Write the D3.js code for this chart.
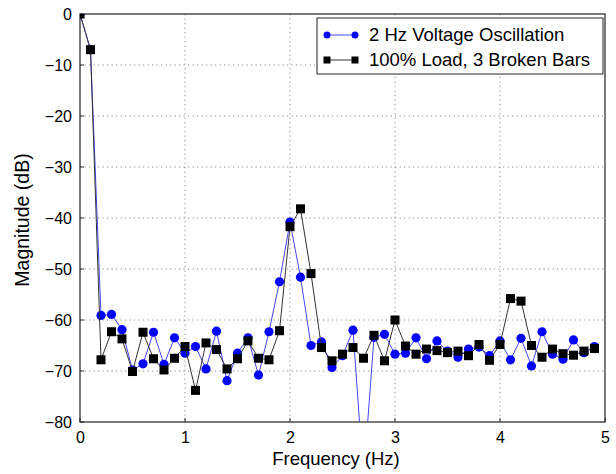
<!DOCTYPE html>
<html>
<head>
<meta charset="utf-8">
<script src="https://cdn.jsdelivr.net/npm/d3@7"></script>
<style>
  body { margin: 0; background: #fff; }
  text { font-family: "Liberation Sans", Arial, sans-serif; }
</style>
</head>
<body>
<div id="graph"></div>
<script>
// frequency bins, 0.1 Hz apart
var freqs = d3.range(0, 50).map(i => i / 10)

var voltageOsc = [0, -7, -59.1, -58.9, -61.9, -69.8, -68.6, -62.4, -68.7, -63.5,
  -66.5, -65.2, -69.6, -62.2, -71.9, -66.5, -63.5, -70.8, -62.3, -52.5,
  -40.8, -51.6, -65.0, -64.3, -69.3, -67.0, -62.0, -91, -63.4, -62.8,
  -66.7, -66.5, -63.5, -67.6, -64.1, -66.1, -67.3, -65.7, -65.3, -67.0,
  -64.1, -67.8, -63.6, -69.0, -62.3, -66.7, -67.7, -63.9, -66.4, -65.2]

var brokenBars = [0, -7, -67.8, -62.3, -63.7, -70.1, -62.4, -67.6, -69.8, -67.5,
  -65.2, -73.8, -64.5, -65.8, -69.6, -67.6, -64.1, -67.5, -67.8, -62.1,
  -41.7, -38.2, -50.9, -65.4, -68.0, -66.7, -65.4, -67.5, -63.0, -68.0,
  -60.0, -65.1, -66.7, -65.7, -66.0, -66.4, -66.1, -67.0, -64.8, -67.9,
  -64.8, -55.8, -56.3, -65.0, -67.3, -65.7, -66.6, -66.9, -66.1, -65.6]

var xTicks = [0, 1, 2, 3, 4, 5]
var yTicks = [0, -10, -20, -30, -40, -50, -60, -70, -80]
var legendLabels = ['2 Hz Voltage Oscillation', '100% Load, 3 Broken Bars']

var W = 616, H = 474
var m = {left: 80, right: 11, top: 14, bottom: 52}
var w = W - m.left - m.right, h = H - m.top - m.bottom

var x = d3.scaleLinear().domain([0, 5]).range([0, w])
var y = d3.scaleLinear().domain([-80, 0]).range([h, 0])

var svg = d3.select('#graph').append('svg')
  .attr('width', W).attr('height', H)

var g = svg.append('g').attr('transform', `translate(${m.left},${m.top})`)

svg.append('defs').append('clipPath').attr('id', 'clip')
  .append('rect').attr('width', w).attr('height', h)

// dotted grid
g.selectAll('.gx').data(xTicks.slice(1, -1)).join('line')
  .attr('x1', d => x(d)).attr('x2', d => x(d))
  .attr('y1', 0).attr('y2', h)
  .attr('stroke', '#888').attr('stroke-dasharray', '1.2,3.3')
g.selectAll('.gy').data(yTicks.slice(1, -1)).join('line')
  .attr('y1', d => y(d)).attr('y2', d => y(d))
  .attr('x1', 0).attr('x2', w)
  .attr('stroke', '#888').attr('stroke-dasharray', '1.2,3.3')

// axes
var xAxis = g.append('g').attr('transform', `translate(0,${h})`)
  .call(d3.axisBottom(x).tickValues(xTicks).tickSize(0).tickPadding(10).tickFormat(d3.format('d')))
var yAxis = g.append('g')
  .call(d3.axisLeft(y).tickValues(yTicks).tickSize(0).tickPadding(8)
    .tickFormat(d => d < 0 ? '\u2212' + Math.abs(d) : d))
;[xAxis, yAxis].forEach(a => {
  a.select('.domain').remove()
  a.selectAll('text').attr('font-size', 16).attr('fill', '#000')
    .style('font-family', '"Liberation Sans", Arial, sans-serif')
})
yAxis.selectAll('text').attr('dy', '0.35em')

// small inward ticks
g.selectAll('.tkx').data(xTicks).join('line')
  .attr('x1', d => x(d)).attr('x2', d => x(d)).attr('y1', h).attr('y2', h - 4)
  .attr('stroke', '#333')
g.selectAll('.tky').data(yTicks).join('line')
  .attr('y1', d => y(d)).attr('y2', d => y(d)).attr('x1', 0).attr('x2', 4)
  .attr('stroke', '#333')

g.append('rect').attr('width', w).attr('height', h)
  .attr('fill', 'none').attr('stroke', '#222').attr('stroke-width', 1.2)

var line = d3.line().x((d, i) => x(freqs[i])).y(d => y(d))

var plot = g.append('g').attr('clip-path', 'url(#clip)')

plot.append('path').datum(voltageOsc)
  .attr('d', line).attr('fill', 'none').attr('stroke', '#4444ff').attr('stroke-width', 1)
plot.selectAll('.c').data(voltageOsc).join('circle')
  .attr('cx', (d, i) => x(freqs[i])).attr('cy', d => y(d))
  .attr('r', 4.6).attr('fill', '#0000ff')

plot.append('path').datum(brokenBars)
  .attr('d', line).attr('fill', 'none').attr('stroke', '#333').attr('stroke-width', 1)
plot.selectAll('.s').data(brokenBars).join('rect')
  .attr('x', (d, i) => x(freqs[i]) - 4.5).attr('y', d => y(d) - 4.5)
  .attr('width', 9).attr('height', 9).attr('fill', '#000')

// axis titles
svg.append('text').attr('x', 336).attr('y', 465)
  .attr('text-anchor', 'middle').attr('font-size', 18.5).text('Frequency (Hz)')
svg.append('text').attr('transform', `translate(29,220) rotate(-90)`)
  .attr('text-anchor', 'middle').attr('font-size', 19.5).text('Magnitude (dB)')

// legend
var lg = svg.append('g').attr('transform', 'translate(317,18)')
lg.append('rect').attr('width', 286).attr('height', 56)
  .attr('fill', '#fff').attr('stroke', '#222').attr('stroke-width', 1)
legendLabels.forEach((lab, i) => {
  var ly = 17 + i * 25
  var col = i === 0 ? '#0000ff' : '#000'
  lg.append('line').attr('x1', 10).attr('x2', 38).attr('y1', ly).attr('y2', ly)
    .attr('stroke', i === 0 ? '#4444ff' : '#333')
  ;[10, 38].forEach(px => {
    if (i === 0) lg.append('circle').attr('cx', px).attr('cy', ly).attr('r', 3.5).attr('fill', col)
    else lg.append('rect').attr('x', px - 3.5).attr('y', ly - 3.5).attr('width', 7).attr('height', 7).attr('fill', col)
  })
  lg.append('text').attr('x', 52).attr('y', ly).attr('dy', '0.35em')
    .attr('font-size', 18.5).text(lab)
})
</script>
</body>
</html>
